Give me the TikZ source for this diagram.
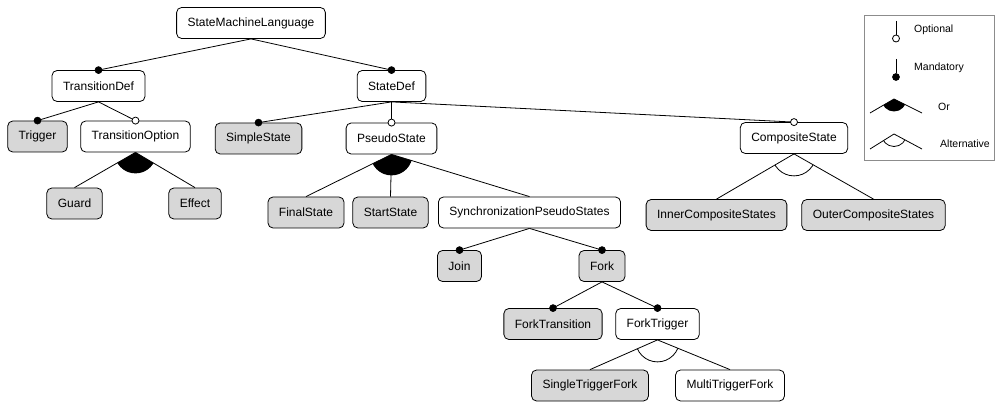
\documentclass[tikz,border=0pt]{standalone}
\usepackage{fontspec}
\setmainfont{Liberation Sans}
\usetikzlibrary{calc}
\definecolor{featgray}{RGB}{215,215,215}
\definecolor{legendgray}{RGB}{140,140,140}
\newcommand\mandedge[2]{\draw[conn] (#1.south) -- (#2.north); \filldraw[mand] (#2.north) circle[radius=3.5pt];}
\newcommand\optedge[2]{\draw[conn] (#1.south) -- (#2.north); \filldraw[opt] (#2.north) circle[radius=3.5pt];}
\newcommand\plainedge[2]{\draw[conn] (#1.south) -- (#2.north);}
\newcommand\orsector[3]{\begin{scope}\clip (#1.south) -- (#2.north) -- (#3.north) -- cycle; \fill (#1.south) circle[radius=21pt];\end{scope}}
\newcommand\altarc[3]{\begin{scope}\clip (#1.south) -- (#2.north) -- (#3.north) -- cycle; \draw[conn] (#1.south) circle[radius=22pt];\end{scope}}
\begin{document}
\begin{tikzpicture}[x=1pt,y=-1pt,
  feat/.style={draw=black, line width=0.8pt, rounded corners=5pt, fill=white,
    minimum height=31pt, inner xsep=11pt, inner ysep=0pt,
    font=\fontsize{12}{14}\selectfont},
  concrete/.style={feat, fill=featgray},
  conn/.style={line width=0.8pt},
  mand/.style={fill=black, draw=black, line width=0.6pt},
  opt/.style={fill=white, draw=black, line width=0.8pt},
  legtext/.style={font=\fontsize{10.5}{12}\selectfont, anchor=west, inner sep=0pt}
]
\useasboundingbox (0,0) rectangle (996,406);

% nodes
\node[feat] (sml) at (251,23) {StateMachineLanguage};
\node[feat] (td) at (98.5,86) {TransitionDef};
\node[feat] (sd) at (391.5,86) {StateDef};
\node[concrete] (trig) at (37.5,136.5) {Trigger};
\node[feat] (topt) at (135.5,136.5) {TransitionOption};
\node[concrete] (simple) at (258.5,138.5) {SimpleState};
\node[feat] (pseudo) at (391.5,138.5) {PseudoState};
\node[feat] (comp) at (794,138) {CompositeState};
\node[concrete] (guard) at (74.5,203.5) {Guard};
\node[concrete] (effect) at (195,203.5) {Effect};
\node[concrete] (final) at (306,212.5) {FinalState};
\node[concrete] (start) at (390.5,212.5) {StartState};
\node[feat] (sync) at (529.5,212.5) {SynchronizationPseudoStates};
\node[concrete] (inner) at (716.5,215) {InnerCompositeStates};
\node[concrete] (outer) at (873.5,215) {OuterCompositeStates};
\node[concrete] (join) at (459.5,266) {Join};
\node[concrete] (fork) at (602,266) {Fork};
\node[concrete] (ftrans) at (553,324) {ForkTransition};
\node[feat] (ftrig) at (657.5,324) {ForkTrigger};
\node[concrete] (single) at (590,385.5) {SingleTriggerFork};
\node[feat] (multi) at (730,385.5) {MultiTriggerFork};

% groups
\orsector{topt}{guard}{effect}
\orsector{pseudo}{final}{sync}
\altarc{comp}{inner}{outer}
\altarc{ftrig}{single}{multi}

% edges
\mandedge{sml}{td}
\mandedge{sml}{sd}
\mandedge{td}{trig}
\optedge{td}{topt}
\plainedge{topt}{guard}
\plainedge{topt}{effect}
\mandedge{sd}{simple}
\optedge{sd}{pseudo}
\optedge{sd}{comp}
\plainedge{pseudo}{final}
\plainedge{pseudo}{start}
\plainedge{pseudo}{sync}
\plainedge{comp}{inner}
\plainedge{comp}{outer}
\mandedge{sync}{join}
\mandedge{sync}{fork}
\mandedge{fork}{ftrans}
\mandedge{fork}{ftrig}
\plainedge{ftrig}{single}
\plainedge{ftrig}{multi}

% legend
\draw[draw=legendgray, line width=0.8pt] (864,15) rectangle (994,160);
\draw[conn] (896,21) -- (896,35);
\filldraw[opt] (896,38.5) circle[radius=3.5pt];
\draw[conn] (896,59) -- (896,73);
\filldraw[mand] (896,77) circle[radius=3.5pt];
\coordinate (orapex) at (894,99);
\coordinate (orl) at (870,113);
\coordinate (orr) at (922,113);
\draw[conn] (orl) -- (orapex) -- (orr);
\begin{scope}\clip (orapex) -- (orl) -- (orr) -- cycle; \fill (orapex) circle[radius=12.5pt];\end{scope}
\coordinate (altapex) at (894,134);
\coordinate (altl) at (870,149);
\coordinate (altr) at (922,149);
\draw[conn] (altl) -- (altapex) -- (altr);
\begin{scope}\clip (altapex) -- (altl) -- (altr) -- cycle; \draw[conn] (altapex) circle[radius=12.5pt];\end{scope}
\node[legtext] (lopt) at (914,30) {Optional};
\node[legtext] (lman) at (914,68) {Mandatory};
\node[legtext] (lor) at (938,107) {Or};
\node[legtext] (lalt) at (940,144) {Alternative};
\end{tikzpicture}
\end{document}
